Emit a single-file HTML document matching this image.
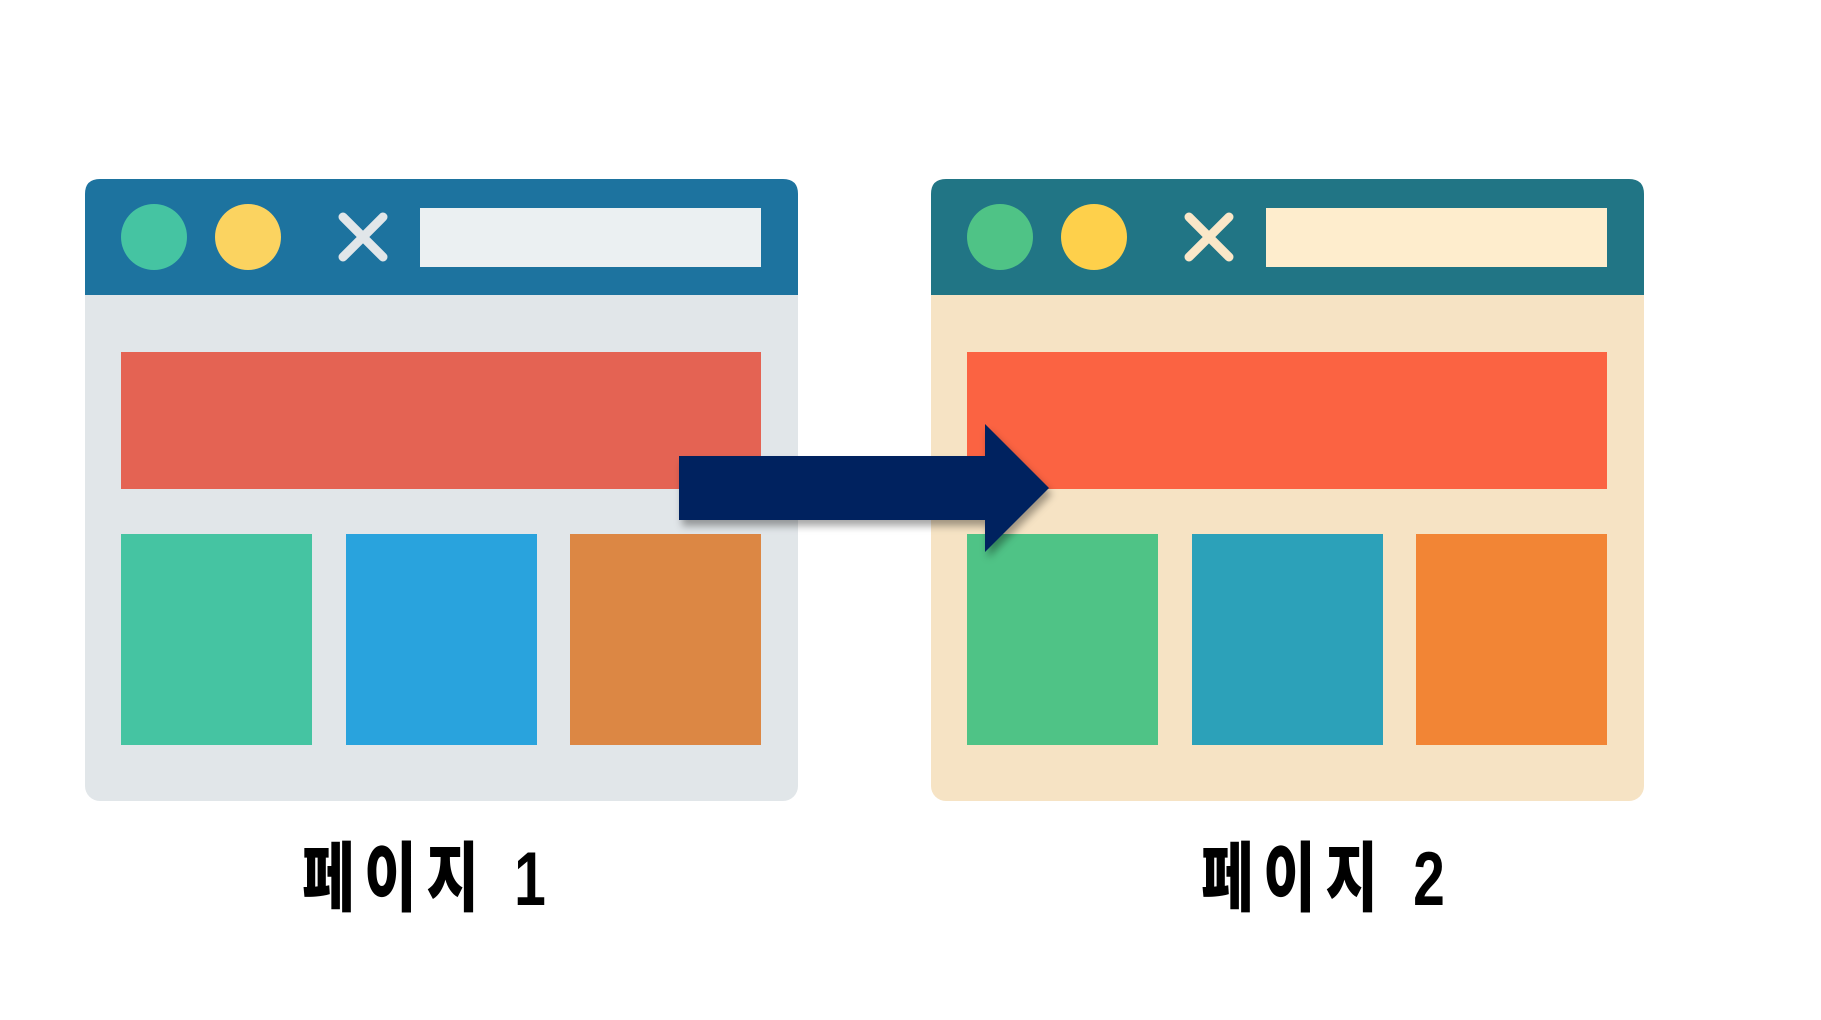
<!DOCTYPE html>
<html><head><meta charset="utf-8"><style>
html,body{margin:0;padding:0;background:#fff;width:1821px;height:1020px;overflow:hidden}
.lbl{position:absolute;font-family:"Liberation Sans","Noto Sans CJK KR",sans-serif;font-weight:900;font-size:76px;line-height:1;color:#000;transform:scaleX(0.75);transform-origin:left top;white-space:nowrap;letter-spacing:13px}
</style></head><body>
<svg width="1821" height="1020" style="position:absolute;left:0;top:0">
<defs><filter id="sh" x="-10%" y="-10%" width="130%" height="140%"><feDropShadow dx="3" dy="6" stdDeviation="4" flood-color="#000" flood-opacity="0.35"/></filter></defs>
<g>
<rect x="85" y="179" width="713" height="622" rx="15" fill="#e1e6e9"/>
<path d="M85 295 V194 Q85 179 100 179 H783 Q798 179 798 194 V295 Z" fill="#1d739f"/>
<circle cx="154" cy="237" r="33" fill="#45c4a2"/>
<circle cx="248" cy="237" r="33" fill="#fbd360"/>
<path d="M343 217 L383 257 M383 217 L343 257" stroke="#e1e6e9" stroke-width="9" stroke-linecap="round"/>
<rect x="420" y="208" width="341" height="59" fill="#ebf0f2"/>
<rect x="121" y="352" width="640" height="137" fill="#e46353"/>
<rect x="121" y="534" width="191" height="211" fill="#45c4a2"/>
<rect x="346" y="534" width="191" height="211" fill="#29a3dd"/>
<rect x="570" y="534" width="191" height="211" fill="#dc8744"/>
</g>
<g transform="translate(846,0)">
<rect x="85" y="179" width="713" height="622" rx="15" fill="#f6e3c4"/>
<path d="M85 295 V194 Q85 179 100 179 H783 Q798 179 798 194 V295 Z" fill="#217585"/>
<circle cx="154" cy="237" r="33" fill="#4fc386"/>
<circle cx="248" cy="237" r="33" fill="#fed04b"/>
<path d="M343 217 L383 257 M383 217 L343 257" stroke="#fae7c8" stroke-width="9" stroke-linecap="round"/>
<rect x="420" y="208" width="341" height="59" fill="#feedcd"/>
<rect x="121" y="352" width="640" height="137" fill="#fb6342"/>
<rect x="121" y="534" width="191" height="211" fill="#4fc386"/>
<rect x="346" y="534" width="191" height="211" fill="#2ca1b9"/>
<rect x="570" y="534" width="191" height="211" fill="#f28535"/>
</g>
<path d="M679 456 H985 V424 L1049 488 L985 552 V520 H679 Z" fill="#00205f" filter="url(#sh)"/>
</svg>
<div class="lbl" style="left:302px;top:842px">페이지 1</div>
<div class="lbl" style="left:1201px;top:842px">페이지 2</div>
</body></html>
